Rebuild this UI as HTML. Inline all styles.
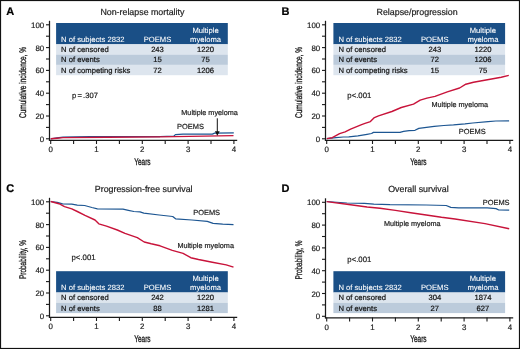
<!DOCTYPE html>
<html><head><meta charset="utf-8"><style>
html,body{margin:0;padding:0;background:#fff;}
svg{display:block;will-change:transform;text-rendering:geometricPrecision;}
</style></head><body>
<svg width="520" height="349" viewBox="0 0 520 349">
<rect x="0" y="0" width="520" height="349" fill="#fff"/>
<text x="6.2" y="14.7" font-family="Liberation Sans" font-weight="bold" font-size="11" fill="#000" stroke="#000" stroke-width="0.2">A</text>
<text x="142.4" y="15" font-family="Liberation Sans" font-size="8.85" text-anchor="middle" fill="#222" stroke="#222" stroke-width="0.2">Non-relapse mortality</text>
<rect x="56.1" y="23.0" width="171.7" height="21.3" fill="#1a4f86"/>
<rect x="56.1" y="44.30" width="171.7" height="10.3" fill="#dde5ee"/>
<text x="61.1" y="52.00" font-family="Liberation Sans" font-size="7.65" fill="#111" stroke="#111" stroke-width="0.2">N of censored</text>
<text x="157.5" y="52.00" font-family="Liberation Sans" font-size="7.65" text-anchor="middle" fill="#111" stroke="#111" stroke-width="0.2">243</text>
<text x="205.6" y="52.00" font-family="Liberation Sans" font-size="7.65" text-anchor="middle" fill="#111" stroke="#111" stroke-width="0.2">1220</text>
<rect x="56.1" y="54.60" width="171.7" height="10.3" fill="#bccbdb"/>
<text x="61.1" y="62.30" font-family="Liberation Sans" font-size="7.65" fill="#111" stroke="#111" stroke-width="0.2">N of events</text>
<text x="157.5" y="62.30" font-family="Liberation Sans" font-size="7.65" text-anchor="middle" fill="#111" stroke="#111" stroke-width="0.2">15</text>
<text x="205.6" y="62.30" font-family="Liberation Sans" font-size="7.65" text-anchor="middle" fill="#111" stroke="#111" stroke-width="0.2">75</text>
<rect x="56.1" y="64.90" width="171.7" height="10.3" fill="#dde5ee"/>
<text x="61.1" y="72.60" font-family="Liberation Sans" font-size="7.65" fill="#111" stroke="#111" stroke-width="0.2">N of competing risks</text>
<text x="157.5" y="72.60" font-family="Liberation Sans" font-size="7.65" text-anchor="middle" fill="#111" stroke="#111" stroke-width="0.2">72</text>
<text x="205.6" y="72.60" font-family="Liberation Sans" font-size="7.65" text-anchor="middle" fill="#111" stroke="#111" stroke-width="0.2">1206</text>
<text x="61.1" y="41.50" font-family="Liberation Sans" font-size="7.65" fill="#fff" stroke="#fff" stroke-width="0.08">N of subjects 2832</text>
<text x="157.5" y="41.50" font-family="Liberation Sans" font-size="7.65" text-anchor="middle" fill="#fff" stroke="#fff" stroke-width="0.08">POEMS</text>
<text x="205.6" y="32.80" font-family="Liberation Sans" font-size="7.65" text-anchor="middle" fill="#fff" stroke="#fff" stroke-width="0.08">Multiple</text>
<text x="205.6" y="41.50" font-family="Liberation Sans" font-size="7.65" text-anchor="middle" fill="#fff" stroke="#fff" stroke-width="0.08">myeloma</text>
<line x1="49.5" y1="20.8" x2="49.5" y2="140.8" stroke="#1a1a1a" stroke-width="1.25"/>
<line x1="48.9" y1="140.3" x2="237.2" y2="140.3" stroke="#1a1a1a" stroke-width="1.25"/>
<line x1="46" y1="138.80" x2="49.5" y2="138.80" stroke="#1a1a1a" stroke-width="1.1"/>
<text x="44.2" y="141.80" font-family="Liberation Sans" font-size="7.9" text-anchor="end" fill="#222" stroke="#222" stroke-width="0.2">0</text>
<line x1="46" y1="127.40" x2="49.5" y2="127.40" stroke="#1a1a1a" stroke-width="1.1"/>
<line x1="46" y1="116.00" x2="49.5" y2="116.00" stroke="#1a1a1a" stroke-width="1.1"/>
<text x="44.2" y="119.00" font-family="Liberation Sans" font-size="7.9" text-anchor="end" fill="#222" stroke="#222" stroke-width="0.2">20</text>
<line x1="46" y1="104.60" x2="49.5" y2="104.60" stroke="#1a1a1a" stroke-width="1.1"/>
<line x1="46" y1="93.20" x2="49.5" y2="93.20" stroke="#1a1a1a" stroke-width="1.1"/>
<text x="44.2" y="96.20" font-family="Liberation Sans" font-size="7.9" text-anchor="end" fill="#222" stroke="#222" stroke-width="0.2">40</text>
<line x1="46" y1="81.80" x2="49.5" y2="81.80" stroke="#1a1a1a" stroke-width="1.1"/>
<line x1="46" y1="70.40" x2="49.5" y2="70.40" stroke="#1a1a1a" stroke-width="1.1"/>
<text x="44.2" y="73.40" font-family="Liberation Sans" font-size="7.9" text-anchor="end" fill="#222" stroke="#222" stroke-width="0.2">60</text>
<line x1="46" y1="59.00" x2="49.5" y2="59.00" stroke="#1a1a1a" stroke-width="1.1"/>
<line x1="46" y1="47.60" x2="49.5" y2="47.60" stroke="#1a1a1a" stroke-width="1.1"/>
<text x="44.2" y="50.60" font-family="Liberation Sans" font-size="7.9" text-anchor="end" fill="#222" stroke="#222" stroke-width="0.2">80</text>
<line x1="46" y1="36.20" x2="49.5" y2="36.20" stroke="#1a1a1a" stroke-width="1.1"/>
<line x1="46" y1="24.80" x2="49.5" y2="24.80" stroke="#1a1a1a" stroke-width="1.1"/>
<text x="44.2" y="27.80" font-family="Liberation Sans" font-size="7.9" text-anchor="end" fill="#222" stroke="#222" stroke-width="0.2">100</text>
<line x1="50.70" y1="140" x2="50.70" y2="144" stroke="#1a1a1a" stroke-width="1.1"/>
<text x="50.70" y="152" font-family="Liberation Sans" font-size="7.9" text-anchor="middle" fill="#222" stroke="#222" stroke-width="0.2">0</text>
<line x1="73.60" y1="140" x2="73.60" y2="144" stroke="#1a1a1a" stroke-width="1.1"/>
<line x1="96.50" y1="140" x2="96.50" y2="144" stroke="#1a1a1a" stroke-width="1.1"/>
<text x="96.50" y="152" font-family="Liberation Sans" font-size="7.9" text-anchor="middle" fill="#222" stroke="#222" stroke-width="0.2">1</text>
<line x1="119.40" y1="140" x2="119.40" y2="144" stroke="#1a1a1a" stroke-width="1.1"/>
<line x1="142.30" y1="140" x2="142.30" y2="144" stroke="#1a1a1a" stroke-width="1.1"/>
<text x="142.30" y="152" font-family="Liberation Sans" font-size="7.9" text-anchor="middle" fill="#222" stroke="#222" stroke-width="0.2">2</text>
<line x1="165.20" y1="140" x2="165.20" y2="144" stroke="#1a1a1a" stroke-width="1.1"/>
<line x1="188.10" y1="140" x2="188.10" y2="144" stroke="#1a1a1a" stroke-width="1.1"/>
<text x="188.10" y="152" font-family="Liberation Sans" font-size="7.9" text-anchor="middle" fill="#222" stroke="#222" stroke-width="0.2">3</text>
<line x1="211.00" y1="140" x2="211.00" y2="144" stroke="#1a1a1a" stroke-width="1.1"/>
<line x1="233.90" y1="140" x2="233.90" y2="144" stroke="#1a1a1a" stroke-width="1.1"/>
<text x="233.90" y="152" font-family="Liberation Sans" font-size="7.9" text-anchor="middle" fill="#222" stroke="#222" stroke-width="0.2">4</text>
<text transform="translate(142.4,164.6) scale(0.67,1)" font-family="Liberation Sans" font-size="9.7" text-anchor="middle" fill="#222" stroke="#222" stroke-width="0.35">Years</text>
<text transform="translate(25.9,82.5) rotate(-90) scale(0.67,1)" font-family="Liberation Sans" font-size="9.7" text-anchor="middle" fill="#222" stroke="#222" stroke-width="0.35">Cumulative incidence, %</text>
<text x="281.4" y="14.7" font-family="Liberation Sans" font-weight="bold" font-size="11" fill="#000" stroke="#000" stroke-width="0.2">B</text>
<text x="417.09999999999997" y="15" font-family="Liberation Sans" font-size="8.85" text-anchor="middle" fill="#222" stroke="#222" stroke-width="0.2">Relapse/progression</text>
<rect x="333.4" y="23.0" width="171.7" height="21.3" fill="#1a4f86"/>
<rect x="333.4" y="44.30" width="171.7" height="10.3" fill="#dde5ee"/>
<text x="338.4" y="52.00" font-family="Liberation Sans" font-size="7.65" fill="#111" stroke="#111" stroke-width="0.2">N of censored</text>
<text x="434.79999999999995" y="52.00" font-family="Liberation Sans" font-size="7.65" text-anchor="middle" fill="#111" stroke="#111" stroke-width="0.2">243</text>
<text x="482.9" y="52.00" font-family="Liberation Sans" font-size="7.65" text-anchor="middle" fill="#111" stroke="#111" stroke-width="0.2">1220</text>
<rect x="333.4" y="54.60" width="171.7" height="10.3" fill="#bccbdb"/>
<text x="338.4" y="62.30" font-family="Liberation Sans" font-size="7.65" fill="#111" stroke="#111" stroke-width="0.2">N of events</text>
<text x="434.79999999999995" y="62.30" font-family="Liberation Sans" font-size="7.65" text-anchor="middle" fill="#111" stroke="#111" stroke-width="0.2">72</text>
<text x="482.9" y="62.30" font-family="Liberation Sans" font-size="7.65" text-anchor="middle" fill="#111" stroke="#111" stroke-width="0.2">1206</text>
<rect x="333.4" y="64.90" width="171.7" height="10.3" fill="#dde5ee"/>
<text x="338.4" y="72.60" font-family="Liberation Sans" font-size="7.65" fill="#111" stroke="#111" stroke-width="0.2">N of competing risks</text>
<text x="434.79999999999995" y="72.60" font-family="Liberation Sans" font-size="7.65" text-anchor="middle" fill="#111" stroke="#111" stroke-width="0.2">15</text>
<text x="482.9" y="72.60" font-family="Liberation Sans" font-size="7.65" text-anchor="middle" fill="#111" stroke="#111" stroke-width="0.2">75</text>
<text x="338.4" y="41.50" font-family="Liberation Sans" font-size="7.65" fill="#fff" stroke="#fff" stroke-width="0.08">N of subjects 2832</text>
<text x="434.79999999999995" y="41.50" font-family="Liberation Sans" font-size="7.65" text-anchor="middle" fill="#fff" stroke="#fff" stroke-width="0.08">POEMS</text>
<text x="482.9" y="32.80" font-family="Liberation Sans" font-size="7.65" text-anchor="middle" fill="#fff" stroke="#fff" stroke-width="0.08">Multiple</text>
<text x="482.9" y="41.50" font-family="Liberation Sans" font-size="7.65" text-anchor="middle" fill="#fff" stroke="#fff" stroke-width="0.08">myeloma</text>
<line x1="325.5" y1="20.8" x2="325.5" y2="140.8" stroke="#1a1a1a" stroke-width="1.25"/>
<line x1="324.9" y1="140.3" x2="513.2" y2="140.3" stroke="#1a1a1a" stroke-width="1.25"/>
<line x1="322" y1="138.80" x2="325.5" y2="138.80" stroke="#1a1a1a" stroke-width="1.1"/>
<text x="320.2" y="141.80" font-family="Liberation Sans" font-size="7.9" text-anchor="end" fill="#222" stroke="#222" stroke-width="0.2">0</text>
<line x1="322" y1="127.40" x2="325.5" y2="127.40" stroke="#1a1a1a" stroke-width="1.1"/>
<line x1="322" y1="116.00" x2="325.5" y2="116.00" stroke="#1a1a1a" stroke-width="1.1"/>
<text x="320.2" y="119.00" font-family="Liberation Sans" font-size="7.9" text-anchor="end" fill="#222" stroke="#222" stroke-width="0.2">20</text>
<line x1="322" y1="104.60" x2="325.5" y2="104.60" stroke="#1a1a1a" stroke-width="1.1"/>
<line x1="322" y1="93.20" x2="325.5" y2="93.20" stroke="#1a1a1a" stroke-width="1.1"/>
<text x="320.2" y="96.20" font-family="Liberation Sans" font-size="7.9" text-anchor="end" fill="#222" stroke="#222" stroke-width="0.2">40</text>
<line x1="322" y1="81.80" x2="325.5" y2="81.80" stroke="#1a1a1a" stroke-width="1.1"/>
<line x1="322" y1="70.40" x2="325.5" y2="70.40" stroke="#1a1a1a" stroke-width="1.1"/>
<text x="320.2" y="73.40" font-family="Liberation Sans" font-size="7.9" text-anchor="end" fill="#222" stroke="#222" stroke-width="0.2">60</text>
<line x1="322" y1="59.00" x2="325.5" y2="59.00" stroke="#1a1a1a" stroke-width="1.1"/>
<line x1="322" y1="47.60" x2="325.5" y2="47.60" stroke="#1a1a1a" stroke-width="1.1"/>
<text x="320.2" y="50.60" font-family="Liberation Sans" font-size="7.9" text-anchor="end" fill="#222" stroke="#222" stroke-width="0.2">80</text>
<line x1="322" y1="36.20" x2="325.5" y2="36.20" stroke="#1a1a1a" stroke-width="1.1"/>
<line x1="322" y1="24.80" x2="325.5" y2="24.80" stroke="#1a1a1a" stroke-width="1.1"/>
<text x="320.2" y="27.80" font-family="Liberation Sans" font-size="7.9" text-anchor="end" fill="#222" stroke="#222" stroke-width="0.2">100</text>
<line x1="326.70" y1="140" x2="326.70" y2="144" stroke="#1a1a1a" stroke-width="1.1"/>
<text x="326.70" y="152" font-family="Liberation Sans" font-size="7.9" text-anchor="middle" fill="#222" stroke="#222" stroke-width="0.2">0</text>
<line x1="349.60" y1="140" x2="349.60" y2="144" stroke="#1a1a1a" stroke-width="1.1"/>
<line x1="372.50" y1="140" x2="372.50" y2="144" stroke="#1a1a1a" stroke-width="1.1"/>
<text x="372.50" y="152" font-family="Liberation Sans" font-size="7.9" text-anchor="middle" fill="#222" stroke="#222" stroke-width="0.2">1</text>
<line x1="395.40" y1="140" x2="395.40" y2="144" stroke="#1a1a1a" stroke-width="1.1"/>
<line x1="418.30" y1="140" x2="418.30" y2="144" stroke="#1a1a1a" stroke-width="1.1"/>
<text x="418.30" y="152" font-family="Liberation Sans" font-size="7.9" text-anchor="middle" fill="#222" stroke="#222" stroke-width="0.2">2</text>
<line x1="441.20" y1="140" x2="441.20" y2="144" stroke="#1a1a1a" stroke-width="1.1"/>
<line x1="464.10" y1="140" x2="464.10" y2="144" stroke="#1a1a1a" stroke-width="1.1"/>
<text x="464.10" y="152" font-family="Liberation Sans" font-size="7.9" text-anchor="middle" fill="#222" stroke="#222" stroke-width="0.2">3</text>
<line x1="487.00" y1="140" x2="487.00" y2="144" stroke="#1a1a1a" stroke-width="1.1"/>
<line x1="509.90" y1="140" x2="509.90" y2="144" stroke="#1a1a1a" stroke-width="1.1"/>
<text x="509.90" y="152" font-family="Liberation Sans" font-size="7.9" text-anchor="middle" fill="#222" stroke="#222" stroke-width="0.2">4</text>
<text transform="translate(418.4,164.6) scale(0.67,1)" font-family="Liberation Sans" font-size="9.7" text-anchor="middle" fill="#222" stroke="#222" stroke-width="0.35">Years</text>
<text transform="translate(301.9,82.5) rotate(-90) scale(0.67,1)" font-family="Liberation Sans" font-size="9.7" text-anchor="middle" fill="#222" stroke="#222" stroke-width="0.35">Cumulative incidence, %</text>
<text x="6.2" y="191.7" font-family="Liberation Sans" font-weight="bold" font-size="11" fill="#000" stroke="#000" stroke-width="0.2">C</text>
<text x="143.70000000000002" y="191.8" font-family="Liberation Sans" font-size="8.85" text-anchor="middle" fill="#222" stroke="#222" stroke-width="0.2">Progression-free survival</text>
<rect x="56.1" y="271.2" width="171.7" height="21.3" fill="#1a4f86"/>
<rect x="56.1" y="292.50" width="171.7" height="10.3" fill="#dde5ee"/>
<text x="61.1" y="300.20" font-family="Liberation Sans" font-size="7.65" fill="#111" stroke="#111" stroke-width="0.2">N of censored</text>
<text x="157.5" y="300.20" font-family="Liberation Sans" font-size="7.65" text-anchor="middle" fill="#111" stroke="#111" stroke-width="0.2">242</text>
<text x="205.6" y="300.20" font-family="Liberation Sans" font-size="7.65" text-anchor="middle" fill="#111" stroke="#111" stroke-width="0.2">1220</text>
<rect x="56.1" y="302.80" width="171.7" height="10.3" fill="#bccbdb"/>
<text x="61.1" y="310.50" font-family="Liberation Sans" font-size="7.65" fill="#111" stroke="#111" stroke-width="0.2">N of events</text>
<text x="157.5" y="310.50" font-family="Liberation Sans" font-size="7.65" text-anchor="middle" fill="#111" stroke="#111" stroke-width="0.2">88</text>
<text x="205.6" y="310.50" font-family="Liberation Sans" font-size="7.65" text-anchor="middle" fill="#111" stroke="#111" stroke-width="0.2">1281</text>
<text x="61.1" y="289.70" font-family="Liberation Sans" font-size="7.65" fill="#fff" stroke="#fff" stroke-width="0.08">N of subjects 2832</text>
<text x="157.5" y="289.70" font-family="Liberation Sans" font-size="7.65" text-anchor="middle" fill="#fff" stroke="#fff" stroke-width="0.08">POEMS</text>
<text x="205.6" y="281.00" font-family="Liberation Sans" font-size="7.65" text-anchor="middle" fill="#fff" stroke="#fff" stroke-width="0.08">Multiple</text>
<text x="205.6" y="289.70" font-family="Liberation Sans" font-size="7.65" text-anchor="middle" fill="#fff" stroke="#fff" stroke-width="0.08">myeloma</text>
<line x1="49.5" y1="197.8" x2="49.5" y2="317.8" stroke="#1a1a1a" stroke-width="1.25"/>
<line x1="48.9" y1="317.3" x2="237.2" y2="317.3" stroke="#1a1a1a" stroke-width="1.25"/>
<line x1="46" y1="315.80" x2="49.5" y2="315.80" stroke="#1a1a1a" stroke-width="1.1"/>
<text x="44.2" y="318.80" font-family="Liberation Sans" font-size="7.9" text-anchor="end" fill="#222" stroke="#222" stroke-width="0.2">0</text>
<line x1="46" y1="304.40" x2="49.5" y2="304.40" stroke="#1a1a1a" stroke-width="1.1"/>
<line x1="46" y1="293.00" x2="49.5" y2="293.00" stroke="#1a1a1a" stroke-width="1.1"/>
<text x="44.2" y="296.00" font-family="Liberation Sans" font-size="7.9" text-anchor="end" fill="#222" stroke="#222" stroke-width="0.2">20</text>
<line x1="46" y1="281.60" x2="49.5" y2="281.60" stroke="#1a1a1a" stroke-width="1.1"/>
<line x1="46" y1="270.20" x2="49.5" y2="270.20" stroke="#1a1a1a" stroke-width="1.1"/>
<text x="44.2" y="273.20" font-family="Liberation Sans" font-size="7.9" text-anchor="end" fill="#222" stroke="#222" stroke-width="0.2">40</text>
<line x1="46" y1="258.80" x2="49.5" y2="258.80" stroke="#1a1a1a" stroke-width="1.1"/>
<line x1="46" y1="247.40" x2="49.5" y2="247.40" stroke="#1a1a1a" stroke-width="1.1"/>
<text x="44.2" y="250.40" font-family="Liberation Sans" font-size="7.9" text-anchor="end" fill="#222" stroke="#222" stroke-width="0.2">60</text>
<line x1="46" y1="236.00" x2="49.5" y2="236.00" stroke="#1a1a1a" stroke-width="1.1"/>
<line x1="46" y1="224.60" x2="49.5" y2="224.60" stroke="#1a1a1a" stroke-width="1.1"/>
<text x="44.2" y="227.60" font-family="Liberation Sans" font-size="7.9" text-anchor="end" fill="#222" stroke="#222" stroke-width="0.2">80</text>
<line x1="46" y1="213.20" x2="49.5" y2="213.20" stroke="#1a1a1a" stroke-width="1.1"/>
<line x1="46" y1="201.80" x2="49.5" y2="201.80" stroke="#1a1a1a" stroke-width="1.1"/>
<text x="44.2" y="204.80" font-family="Liberation Sans" font-size="7.9" text-anchor="end" fill="#222" stroke="#222" stroke-width="0.2">100</text>
<line x1="50.70" y1="317" x2="50.70" y2="321" stroke="#1a1a1a" stroke-width="1.1"/>
<text x="50.70" y="329" font-family="Liberation Sans" font-size="7.9" text-anchor="middle" fill="#222" stroke="#222" stroke-width="0.2">0</text>
<line x1="73.60" y1="317" x2="73.60" y2="321" stroke="#1a1a1a" stroke-width="1.1"/>
<line x1="96.50" y1="317" x2="96.50" y2="321" stroke="#1a1a1a" stroke-width="1.1"/>
<text x="96.50" y="329" font-family="Liberation Sans" font-size="7.9" text-anchor="middle" fill="#222" stroke="#222" stroke-width="0.2">1</text>
<line x1="119.40" y1="317" x2="119.40" y2="321" stroke="#1a1a1a" stroke-width="1.1"/>
<line x1="142.30" y1="317" x2="142.30" y2="321" stroke="#1a1a1a" stroke-width="1.1"/>
<text x="142.30" y="329" font-family="Liberation Sans" font-size="7.9" text-anchor="middle" fill="#222" stroke="#222" stroke-width="0.2">2</text>
<line x1="165.20" y1="317" x2="165.20" y2="321" stroke="#1a1a1a" stroke-width="1.1"/>
<line x1="188.10" y1="317" x2="188.10" y2="321" stroke="#1a1a1a" stroke-width="1.1"/>
<text x="188.10" y="329" font-family="Liberation Sans" font-size="7.9" text-anchor="middle" fill="#222" stroke="#222" stroke-width="0.2">3</text>
<line x1="211.00" y1="317" x2="211.00" y2="321" stroke="#1a1a1a" stroke-width="1.1"/>
<line x1="233.90" y1="317" x2="233.90" y2="321" stroke="#1a1a1a" stroke-width="1.1"/>
<text x="233.90" y="329" font-family="Liberation Sans" font-size="7.9" text-anchor="middle" fill="#222" stroke="#222" stroke-width="0.2">4</text>
<text transform="translate(142.4,341.6) scale(0.67,1)" font-family="Liberation Sans" font-size="9.7" text-anchor="middle" fill="#222" stroke="#222" stroke-width="0.35">Years</text>
<text transform="translate(25.9,259.5) rotate(-90) scale(0.67,1)" font-family="Liberation Sans" font-size="9.7" text-anchor="middle" fill="#222" stroke="#222" stroke-width="0.35">Probability, %</text>
<text x="281.4" y="191.7" font-family="Liberation Sans" font-weight="bold" font-size="11" fill="#000" stroke="#000" stroke-width="0.2">D</text>
<text x="418.4" y="191.9" font-family="Liberation Sans" font-size="8.85" text-anchor="middle" fill="#222" stroke="#222" stroke-width="0.2">Overall survival</text>
<rect x="333.4" y="271.2" width="171.7" height="21.3" fill="#1a4f86"/>
<rect x="333.4" y="292.50" width="171.7" height="10.3" fill="#dde5ee"/>
<text x="338.4" y="300.20" font-family="Liberation Sans" font-size="7.65" fill="#111" stroke="#111" stroke-width="0.2">N of censored</text>
<text x="434.79999999999995" y="300.20" font-family="Liberation Sans" font-size="7.65" text-anchor="middle" fill="#111" stroke="#111" stroke-width="0.2">304</text>
<text x="482.9" y="300.20" font-family="Liberation Sans" font-size="7.65" text-anchor="middle" fill="#111" stroke="#111" stroke-width="0.2">1874</text>
<rect x="333.4" y="302.80" width="171.7" height="10.3" fill="#bccbdb"/>
<text x="338.4" y="310.50" font-family="Liberation Sans" font-size="7.65" fill="#111" stroke="#111" stroke-width="0.2">N of events</text>
<text x="434.79999999999995" y="310.50" font-family="Liberation Sans" font-size="7.65" text-anchor="middle" fill="#111" stroke="#111" stroke-width="0.2">27</text>
<text x="482.9" y="310.50" font-family="Liberation Sans" font-size="7.65" text-anchor="middle" fill="#111" stroke="#111" stroke-width="0.2">627</text>
<text x="338.4" y="289.70" font-family="Liberation Sans" font-size="7.65" fill="#fff" stroke="#fff" stroke-width="0.08">N of subjects 2832</text>
<text x="434.79999999999995" y="289.70" font-family="Liberation Sans" font-size="7.65" text-anchor="middle" fill="#fff" stroke="#fff" stroke-width="0.08">POEMS</text>
<text x="482.9" y="281.00" font-family="Liberation Sans" font-size="7.65" text-anchor="middle" fill="#fff" stroke="#fff" stroke-width="0.08">Multiple</text>
<text x="482.9" y="289.70" font-family="Liberation Sans" font-size="7.65" text-anchor="middle" fill="#fff" stroke="#fff" stroke-width="0.08">myeloma</text>
<line x1="325.5" y1="198.3" x2="325.5" y2="318.3" stroke="#1a1a1a" stroke-width="1.25"/>
<line x1="324.9" y1="317.8" x2="513.2" y2="317.8" stroke="#1a1a1a" stroke-width="1.25"/>
<line x1="322" y1="316.30" x2="325.5" y2="316.30" stroke="#1a1a1a" stroke-width="1.1"/>
<text x="320.2" y="319.30" font-family="Liberation Sans" font-size="7.9" text-anchor="end" fill="#222" stroke="#222" stroke-width="0.2">0</text>
<line x1="322" y1="304.90" x2="325.5" y2="304.90" stroke="#1a1a1a" stroke-width="1.1"/>
<line x1="322" y1="293.50" x2="325.5" y2="293.50" stroke="#1a1a1a" stroke-width="1.1"/>
<text x="320.2" y="296.50" font-family="Liberation Sans" font-size="7.9" text-anchor="end" fill="#222" stroke="#222" stroke-width="0.2">20</text>
<line x1="322" y1="282.10" x2="325.5" y2="282.10" stroke="#1a1a1a" stroke-width="1.1"/>
<line x1="322" y1="270.70" x2="325.5" y2="270.70" stroke="#1a1a1a" stroke-width="1.1"/>
<text x="320.2" y="273.70" font-family="Liberation Sans" font-size="7.9" text-anchor="end" fill="#222" stroke="#222" stroke-width="0.2">40</text>
<line x1="322" y1="259.30" x2="325.5" y2="259.30" stroke="#1a1a1a" stroke-width="1.1"/>
<line x1="322" y1="247.90" x2="325.5" y2="247.90" stroke="#1a1a1a" stroke-width="1.1"/>
<text x="320.2" y="250.90" font-family="Liberation Sans" font-size="7.9" text-anchor="end" fill="#222" stroke="#222" stroke-width="0.2">60</text>
<line x1="322" y1="236.50" x2="325.5" y2="236.50" stroke="#1a1a1a" stroke-width="1.1"/>
<line x1="322" y1="225.10" x2="325.5" y2="225.10" stroke="#1a1a1a" stroke-width="1.1"/>
<text x="320.2" y="228.10" font-family="Liberation Sans" font-size="7.9" text-anchor="end" fill="#222" stroke="#222" stroke-width="0.2">80</text>
<line x1="322" y1="213.70" x2="325.5" y2="213.70" stroke="#1a1a1a" stroke-width="1.1"/>
<line x1="322" y1="202.30" x2="325.5" y2="202.30" stroke="#1a1a1a" stroke-width="1.1"/>
<text x="320.2" y="205.30" font-family="Liberation Sans" font-size="7.9" text-anchor="end" fill="#222" stroke="#222" stroke-width="0.2">100</text>
<line x1="326.70" y1="317.5" x2="326.70" y2="321.5" stroke="#1a1a1a" stroke-width="1.1"/>
<text x="326.70" y="329.5" font-family="Liberation Sans" font-size="7.9" text-anchor="middle" fill="#222" stroke="#222" stroke-width="0.2">0</text>
<line x1="349.60" y1="317.5" x2="349.60" y2="321.5" stroke="#1a1a1a" stroke-width="1.1"/>
<line x1="372.50" y1="317.5" x2="372.50" y2="321.5" stroke="#1a1a1a" stroke-width="1.1"/>
<text x="372.50" y="329.5" font-family="Liberation Sans" font-size="7.9" text-anchor="middle" fill="#222" stroke="#222" stroke-width="0.2">1</text>
<line x1="395.40" y1="317.5" x2="395.40" y2="321.5" stroke="#1a1a1a" stroke-width="1.1"/>
<line x1="418.30" y1="317.5" x2="418.30" y2="321.5" stroke="#1a1a1a" stroke-width="1.1"/>
<text x="418.30" y="329.5" font-family="Liberation Sans" font-size="7.9" text-anchor="middle" fill="#222" stroke="#222" stroke-width="0.2">2</text>
<line x1="441.20" y1="317.5" x2="441.20" y2="321.5" stroke="#1a1a1a" stroke-width="1.1"/>
<line x1="464.10" y1="317.5" x2="464.10" y2="321.5" stroke="#1a1a1a" stroke-width="1.1"/>
<text x="464.10" y="329.5" font-family="Liberation Sans" font-size="7.9" text-anchor="middle" fill="#222" stroke="#222" stroke-width="0.2">3</text>
<line x1="487.00" y1="317.5" x2="487.00" y2="321.5" stroke="#1a1a1a" stroke-width="1.1"/>
<line x1="509.90" y1="317.5" x2="509.90" y2="321.5" stroke="#1a1a1a" stroke-width="1.1"/>
<text x="509.90" y="329.5" font-family="Liberation Sans" font-size="7.9" text-anchor="middle" fill="#222" stroke="#222" stroke-width="0.2">4</text>
<text transform="translate(418.4,342.1) scale(0.67,1)" font-family="Liberation Sans" font-size="9.7" text-anchor="middle" fill="#222" stroke="#222" stroke-width="0.35">Years</text>
<text transform="translate(301.9,260.0) rotate(-90) scale(0.67,1)" font-family="Liberation Sans" font-size="9.7" text-anchor="middle" fill="#222" stroke="#222" stroke-width="0.35">Probability, %</text>
<path d="M50.7,138.8 L57.0,137.8 L63.0,137.1 L90.0,136.7 L160.0,136.5 L173.8,136.1 L175.4,134.6 L183.0,134.1 L212.3,134.1 L214.6,133.1 L233.8,132.9" fill="none" stroke="#1d5692" stroke-width="1.25" stroke-linejoin="round" stroke-linecap="butt"/>
<path d="M50.7,138.8 L57.0,138.2 L63.0,137.6 L108.0,137.2 L160.0,136.9 L233.5,135.6" fill="none" stroke="#c8133a" stroke-width="1.4" stroke-linejoin="round" stroke-linecap="butt"/>
<path d="M326.8,138.6 L336.0,137.7 L343.3,137.0 L348.8,136.8 L357.9,135.9 L367.0,134.3 L371.6,133.5 L373.4,132.4 L400.0,132.3 L403.6,131.3 L409.1,130.6 L415.0,130.3 L418.8,128.4 L426.5,127.4 L434.2,126.4 L443.8,125.5 L453.5,124.9 L465.0,123.9 L472.7,123.0 L488.1,121.6 L495.8,121.0 L509.1,120.8" fill="none" stroke="#1d5692" stroke-width="1.25" stroke-linejoin="round" stroke-linecap="butt"/>
<path d="M326.8,138.6 L332.3,137.7 L339.6,133.7 L345.1,131.9 L350.6,129.1 L361.6,124.6 L365.0,123.4 L370.4,121.6 L374.4,117.6 L378.5,115.8 L391.9,111.5 L401.3,107.5 L413.5,104.1 L420.2,100.1 L426.9,98.1 L435.0,96.4 L447.3,91.8 L459.6,88.0 L465.8,84.2 L473.5,82.2 L488.8,79.5 L501.2,77.2 L508.8,75.4" fill="none" stroke="#c8133a" stroke-width="1.4" stroke-linejoin="round" stroke-linecap="butt"/>
<path d="M50.7,201.5 L57.1,202.4 L62.6,203.9 L71.8,204.2 L77.3,205.1 L84.6,205.5 L91.9,207.5 L97.4,208.8 L123.0,209.2 L128.4,210.3 L133.9,211.5 L140.0,211.9 L143.8,213.1 L159.2,215.0 L172.7,216.5 L175.6,218.8 L191.9,220.0 L207.3,221.3 L213.1,223.3 L222.7,224.2 L233.5,224.6" fill="none" stroke="#1d5692" stroke-width="1.25" stroke-linejoin="round" stroke-linecap="butt"/>
<path d="M50.7,201.5 L59.0,203.7 L64.5,206.6 L71.8,208.8 L77.3,211.5 L85.0,215.4 L95.0,220.0 L98.8,223.8 L106.5,226.2 L117.3,230.0 L125.0,233.4 L137.3,237.7 L144.2,242.0 L151.2,243.8 L160.0,245.8 L172.3,250.3 L183.1,253.4 L190.8,257.7 L198.5,259.5 L212.3,262.3 L226.2,264.9 L233.5,267.2" fill="none" stroke="#c8133a" stroke-width="1.4" stroke-linejoin="round" stroke-linecap="butt"/>
<path d="M326.7,201.5 L346.9,203.0 L364.4,203.3 L373.8,204.2 L390.0,204.7 L426.2,205.0 L446.2,205.5 L450.8,207.3 L458.5,207.9 L487.3,207.9 L496.0,208.6 L498.8,210.0 L509.2,210.2" fill="none" stroke="#1d5692" stroke-width="1.25" stroke-linejoin="round" stroke-linecap="butt"/>
<path d="M326.7,201.6 L346.9,204.2 L367.1,207.0 L380.0,208.2 L395.4,210.4 L410.8,212.7 L426.2,215.0 L441.5,217.3 L455.0,219.0 L485.0,223.6 L509.2,228.7" fill="none" stroke="#c8133a" stroke-width="1.4" stroke-linejoin="round" stroke-linecap="butt"/>
<text x="181.3" y="114.7" font-family="Liberation Sans" font-size="7.28" text-anchor="start" fill="#222" stroke="#222" stroke-width="0.2">Multiple myeloma</text>
<text x="177.1" y="129.4" font-family="Liberation Sans" font-size="7.45" text-anchor="start" fill="#222" stroke="#222" stroke-width="0.2">POEMS</text>
<line x1="217.3" y1="118.3" x2="217.3" y2="132.5" stroke="#111" stroke-width="1"/>
<path d="M214.9,131.2 L219.7,131.2 L217.3,135.8 Z" fill="#111"/>
<text x="431.5" y="106.7" font-family="Liberation Sans" font-size="7.28" text-anchor="start" fill="#222" stroke="#222" stroke-width="0.2">Multiple myeloma</text>
<text x="458.8" y="134.2" font-family="Liberation Sans" font-size="7.45" text-anchor="start" fill="#222" stroke="#222" stroke-width="0.2">POEMS</text>
<text x="193.2" y="215.2" font-family="Liberation Sans" font-size="7.45" text-anchor="start" fill="#222" stroke="#222" stroke-width="0.2">POEMS</text>
<text x="177.4" y="247.8" font-family="Liberation Sans" font-size="7.28" text-anchor="start" fill="#222" stroke="#222" stroke-width="0.2">Multiple myeloma</text>
<text x="482.7" y="204.8" font-family="Liberation Sans" font-size="7.45" text-anchor="start" fill="#222" stroke="#222" stroke-width="0.2">POEMS</text>
<text x="384" y="226.2" font-family="Liberation Sans" font-size="7.28" text-anchor="start" fill="#222" stroke="#222" stroke-width="0.2">Multiple myeloma</text>
<text y="97.7" font-family="Liberation Sans" font-size="7.6" fill="#222" stroke="#222" stroke-width="0.2"><tspan x="72">p</tspan><tspan x="77.4">=</tspan><tspan x="83.1">.307</tspan></text>
<text x="347.3" y="97.7" font-family="Liberation Sans" font-size="7.8" text-anchor="start" fill="#222" stroke="#222" stroke-width="0.2">p&lt;.001</text>
<text x="71.5" y="260.1" font-family="Liberation Sans" font-size="7.8" text-anchor="start" fill="#222" stroke="#222" stroke-width="0.2">p&lt;.001</text>
<text x="347.3" y="262" font-family="Liberation Sans" font-size="7.8" text-anchor="start" fill="#222" stroke="#222" stroke-width="0.2">p&lt;.001</text>
<rect x="0.5" y="0.5" width="519" height="348" fill="none" stroke="#111" stroke-width="1.2"/>
</svg>
</body></html>
